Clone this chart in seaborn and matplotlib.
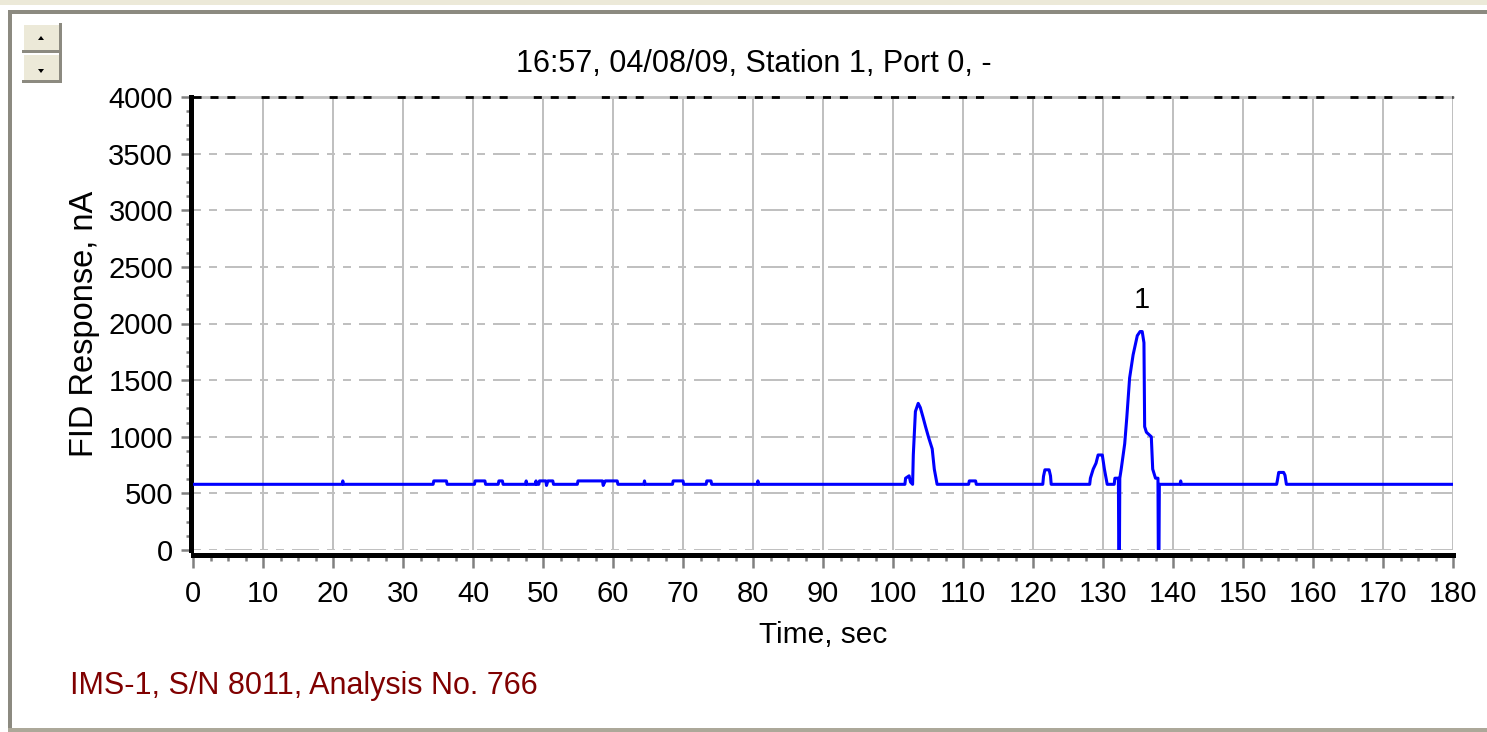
import numpy as np
import matplotlib
matplotlib.use("Agg")
import matplotlib.pyplot as plt
from matplotlib.patches import Rectangle, Polygon
from matplotlib.ticker import MultipleLocator
import seaborn as sns

# Datos del cromatograma (tiempo en s, respuesta FID en nA)
time_s = [0, 21.3, 21.4, 21.5, 34.3, 34.4, 36.2, 36.3, 40.2, 40.3, 41.7, 41.8,
          43.6, 43.7, 44.2, 44.3, 47.5, 47.6, 47.7, 48.9, 49.0, 49.1, 49.4, 49.5,
          50.4, 50.5, 50.7, 51.4, 51.5, 54.9, 55.0, 58.5, 58.6, 58.9, 60.6, 60.7,
          64.4, 64.5, 64.6, 68.5, 68.6, 70.0, 70.1, 73.3, 73.4, 74.0, 74.1, 80.6,
          80.7, 80.8, 101.7, 101.8, 102.3, 102.5, 102.8, 102.9, 103.2, 103.6, 103.9,
          104.3, 104.65, 105.1, 105.6, 105.9, 106.3, 110.8, 110.9, 111.8, 111.9,
          121.4, 121.5, 121.7, 122.3, 122.5, 122.6, 128.1, 128.2, 128.6, 129.0,
          129.3, 129.9, 130.2, 130.6, 131.6, 131.7, 132.2, 132.25, 132.35, 132.4,
          132.6, 133.1, 133.4, 133.8, 134.3, 134.9, 135.3, 135.6, 135.85, 135.95,
          136.2, 136.9, 137.1, 137.5, 137.85, 137.9, 138.0, 138.05, 141.0, 141.1,
          141.2, 154.8, 154.9, 155.1, 155.8, 156.0, 156.2, 180]
response_na = [580, 580, 610, 580, 580, 610, 610, 580, 580, 610, 610, 580,
               580, 610, 610, 580, 580, 610, 580, 580, 610, 580, 580, 610,
               610, 570, 610, 610, 580, 580, 610, 610, 570, 610, 610, 580,
               580, 610, 580, 580, 610, 610, 580, 580, 610, 610, 580, 580,
               610, 580, 580, 634, 655, 600, 580, 839, 1223, 1295, 1258,
               1170, 1089, 991, 893, 714, 580, 580, 610, 610, 580,
               580, 650, 708, 708, 655, 580, 580, 634, 714, 766,
               839, 839, 714, 580, 580, 634, 634, 0, 0, 634,
               714, 938, 1170, 1518, 1723, 1893, 1929, 1929, 1830, 1089,
               1040, 1000, 714, 634, 634, 0, 0, 580, 580, 610,
               580, 580, 610, 685, 685, 660, 580, 580]

x_ticks = list(range(0, 181, 10))
y_ticks = list(range(0, 4001, 500))
peak_label = "1"
peak_label_pos = (135.5, 2210)

title_text = "16:57, 04/08/09, Station 1, Port 0, -"
footer_text = "IMS-1, S/N 8011, Analysis No. 766"

sns.set_style("white")
plt.rcParams['font.family'] = ['Liberation Sans', 'DejaVu Sans']
plt.rcParams['text.color'] = 'black'
plt.rcParams['axes.labelcolor'] = 'black'
plt.rcParams['xtick.labelcolor'] = 'black'
plt.rcParams['ytick.labelcolor'] = 'black'

W, H = 1487, 732
fig = plt.figure(figsize=(W / 100, H / 100), dpi=100)
fig.patch.set_facecolor("white")

# Marco de la ventana y botones (en píxeles)
bg = fig.add_axes([0, 0, 1, 1], zorder=-10)
bg.set_xlim(0, W)
bg.set_ylim(H, 0)
bg.axis("off")
bg.add_patch(Rectangle((0, 0), W, 5, color="#ECE9D8", lw=0))
bg.add_patch(Rectangle((8, 10), W, 4, color="#8c8a80", lw=0))
bg.add_patch(Rectangle((8, 10), 4, H - 12, color="#8c8a80", lw=0))
bg.add_patch(Rectangle((8, 728), W, 4, color="#aca899", lw=0))
for top in (23, 53):
    bg.add_patch(Rectangle((22, top), 40, 29, color="#ECE9D8", lw=0))
    bg.add_patch(Rectangle((22, top + 27), 40, 3, color="#8c8a80", lw=0))
    bg.add_patch(Rectangle((59, top), 3, 30, color="#8c8a80", lw=0))
    bg.add_patch(Rectangle((22, top), 37, 2, color="white", lw=0))
    bg.add_patch(Rectangle((22, top), 2, 27, color="white", lw=0))
bg.add_patch(Polygon([(38, 40), (44, 40), (41, 36)], color="black", lw=0))
bg.add_patch(Polygon([(38, 69), (44, 69), (41, 73)], color="black", lw=0))

ax = fig.add_axes([193 / W, 1 - 550 / H, (1453 - 193) / W, (550 - 97) / H])
ax.set_facecolor("white")

# Rejilla
for xv in x_ticks:
    ax.axvline(xv, color="#C0C0C0", lw=1.44, zorder=1)
for yv in y_ticks[:-1]:
    ax.axhline(yv, color="#C0C0C0", lw=1.44, dashes=(4, 4, 4, 4, 13.5, 4), zorder=1)
ax.axhline(4000, color="#C0C0C0", lw=2.0, zorder=1, clip_on=False)
ax.axhline(4000, color="black", lw=2.0, dashes=(2.9, 3.2, 2.9, 3.2, 2.9, 9.4),
           zorder=2, clip_on=False)

sns.lineplot(x=time_s, y=response_na, ax=ax, color="#0000FF", lw=2.2,
             estimator=None, sort=False, zorder=3)

ax.text(peak_label_pos[0], peak_label_pos[1], peak_label, fontsize=21,
        ha="center", va="center")

ax.set_xlim(0, 180)
ax.set_ylim(0, 4000)
ax.set_xticks(x_ticks)
ax.set_yticks(y_ticks)
ax.xaxis.set_minor_locator(MultipleLocator(2.5))
ax.yaxis.set_minor_locator(MultipleLocator(125))

for side in ("top", "right"):
    ax.spines[side].set_visible(False)
ax.spines["left"].set_color("black")
ax.spines["left"].set_linewidth(3.6)
ax.spines["left"].set_position(("outward", 1.2))
ax.spines["bottom"].set_color("black")
ax.spines["bottom"].set_linewidth(3.6)
ax.spines["bottom"].set_position(("outward", 3.5))

ax.tick_params(axis="x", which="major", direction="out", length=9.4, width=1.8,
               color="#808080", labelsize=21, pad=9, bottom=True)
ax.tick_params(axis="x", which="minor", direction="out", length=4.5, width=1.8,
               color="#808080", bottom=True)
ax.tick_params(axis="y", which="major", direction="out", length=7.2, width=1.8,
               color="#808080", labelsize=21, pad=6, left=True)
ax.tick_params(axis="y", which="minor", direction="out", length=3.6, width=1.8,
               color="#808080", left=True)

ax.set_xlabel("Time, sec", fontsize=21.5, labelpad=9)
ax.set_ylabel("FID Response, nA", fontsize=23.5, labelpad=6)

fig.text(754 / W, 1 - 64 / H, title_text, fontsize=22, ha="center", va="center")
fig.text(70 / W, 1 - 686 / H, footer_text, fontsize=22, ha="left", va="center",
         color="#800000")

fig.savefig("out.png", dpi=100)
